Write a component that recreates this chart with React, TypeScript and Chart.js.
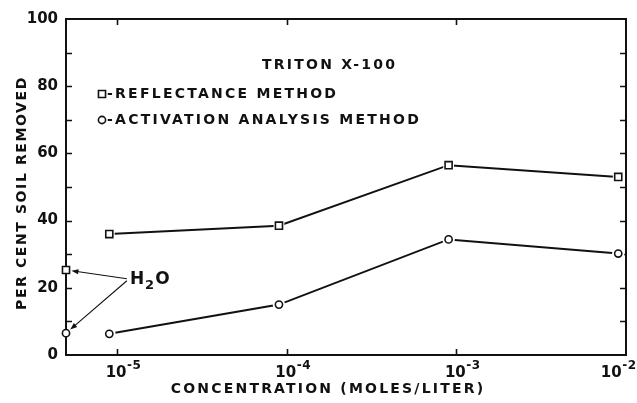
import React, { useEffect, useRef } from 'react';
import { Chart, registerables } from 'chart.js';

Chart.register(...registerables);

// ---- data ----
const CONCENTRATIONS = [9e-6, 9e-5, 9e-4, 9e-3];
const REFLECTANCE = [36.0, 38.5, 56.5, 53.0];
const ACTIVATION = [6.3, 15.0, 34.4, 30.2];
const H2O_CONCENTRATION = 5e-6; // water (no detergent) plotted on the y axis
const H2O_REFLECTANCE = 25.3;
const H2O_ACTIVATION = 6.5;

const X_TICK_VALUES = [1e-5, 1e-4, 1e-3, 1e-2];
const X_TICK_BASE = '10';
const X_TICK_EXPONENTS = ['-5', '-4', '-3', '-2'];
const Y_TICK_VALUES = [0, 20, 40, 60, 80, 100];
const Y_MINOR_TICKS = [10, 20, 30, 40, 50, 60, 70, 80, 90];
const X_MIN = 5e-6;
const X_MAX = 1e-2;
const Y_MIN = 0;
const Y_MAX = 100;

const H2O_LABEL_AT = { x: 1.19e-5, y: 22.4 };
const LEGEND_TITLE = 'TRITON X-100';
const LEGEND_LABELS = ['REFLECTANCE METHOD', 'ACTIVATION ANALYSIS METHOD'];
const X_TITLE = 'CONCENTRATION (MOLES/LITER)';
const Y_TITLE = 'PER CENT SOIL REMOVED';

// ---- styling ----
const INK = '#111111';
const FONT = "'DejaVu Sans', sans-serif";
const RECT_R = 5;
const CIRC_R = 3.6;
const HALO = 2.6;

function spacedText(
  ctx: CanvasRenderingContext2D,
  text: string,
  x: number,
  y: number,
  size: number,
  ls: number,
  align: CanvasTextAlign = 'left',
  weight = 'bold',
  baseline: CanvasTextBaseline = 'middle'
) {
  ctx.save();
  ctx.font = `${weight} ${size}px ${FONT}`;
  (ctx as any).letterSpacing = `${ls}px`;
  ctx.textAlign = align;
  ctx.textBaseline = baseline;
  ctx.fillStyle = INK;
  ctx.fillText(text, x, y);
  ctx.restore();
}

function textWidth(ctx: CanvasRenderingContext2D, text: string, size: number, ls: number) {
  ctx.save();
  ctx.font = `bold ${size}px ${FONT}`;
  (ctx as any).letterSpacing = `${ls}px`;
  const w = ctx.measureText(text).width;
  ctx.restore();
  return w;
}

function arrow(ctx: CanvasRenderingContext2D, x0: number, y0: number, x1: number, y1: number) {
  const ang = Math.atan2(y1 - y0, x1 - x0);
  const len = 7;
  const half = 2.6;
  ctx.save();
  ctx.strokeStyle = INK;
  ctx.fillStyle = INK;
  ctx.lineWidth = 1.1;
  ctx.beginPath();
  ctx.moveTo(x0, y0);
  ctx.lineTo(x1 - Math.cos(ang) * len * 0.8, y1 - Math.sin(ang) * len * 0.8);
  ctx.stroke();
  ctx.beginPath();
  ctx.moveTo(x1, y1);
  ctx.lineTo(x1 - Math.cos(ang) * len - Math.sin(ang) * half, y1 - Math.sin(ang) * len + Math.cos(ang) * half);
  ctx.lineTo(x1 - Math.cos(ang) * len + Math.sin(ang) * half, y1 - Math.sin(ang) * len - Math.cos(ang) * half);
  ctx.closePath();
  ctx.fill();
  ctx.restore();
}

const framePlugin = {
  id: 'frame',
  beforeDatasetsDraw(chart: any) {
    const { ctx, chartArea: a, scales } = chart;
    const x = scales.x;
    const y = scales.y;
    ctx.save();
    ctx.strokeStyle = INK;
    ctx.lineWidth = 2;
    ctx.strokeRect(a.left, a.top, a.right - a.left, a.bottom - a.top);
    ctx.lineWidth = 1.6;
    ctx.beginPath();
    for (const v of Y_MINOR_TICKS) {
      const py = Math.round(y.getPixelForValue(v)) + 0.5;
      ctx.moveTo(a.left, py);
      ctx.lineTo(a.left + 6, py);
      ctx.moveTo(a.right, py);
      ctx.lineTo(a.right - 6, py);
    }
    for (const v of X_TICK_VALUES) {
      if (v >= X_MAX) continue;
      const px = Math.round(x.getPixelForValue(v)) + 0.5;
      ctx.moveTo(px, a.bottom);
      ctx.lineTo(px, a.bottom - 6);
      ctx.moveTo(px, a.top);
      ctx.lineTo(px, a.top + 6);
    }
    ctx.stroke();
    ctx.restore();
  },
};

const notesPlugin = {
  id: 'notes',
  afterDraw(chart: any) {
    const { ctx, chartArea: a, scales, width } = chart;
    const x = scales.x;
    const y = scales.y;

    // x tick labels: 10 with a raised exponent
    X_TICK_VALUES.forEach((v, i) => {
      const px = x.getPixelForValue(v);
      const wb = textWidth(ctx, X_TICK_BASE, 15, 0);
      const we = textWidth(ctx, X_TICK_EXPONENTS[i], 12, 0.5);
      let left = px - wb / 2 - 1;
      if (left + wb + we > width - 1) left = width - 1 - wb - we;
      spacedText(ctx, X_TICK_BASE, left, a.bottom + 22, 15, 0, 'left', 'bold', 'alphabetic');
      spacedText(ctx, X_TICK_EXPONENTS[i], left + wb + 0.5, a.bottom + 14, 12, 0.5, 'left', 'bold', 'alphabetic');
    });

    // axis titles
    ctx.save();
    ctx.translate(22, (a.top + a.bottom) / 2 + 6);
    ctx.rotate(-Math.PI / 2);
    spacedText(ctx, Y_TITLE, 0, 0, 14, 1.6, 'center');
    ctx.restore();
    spacedText(ctx, X_TITLE, (a.left + a.right) / 2 - 18, 389, 14, 2.2, 'center');

    // legend
    spacedText(ctx, LEGEND_TITLE, a.left + 196, a.top + 46, 14, 2.25, 'left');
    const mx = a.left + 36;
    const rows = [a.top + 75, a.top + 101];
    ctx.save();
    ctx.strokeStyle = INK;
    ctx.fillStyle = '#fff';
    ctx.lineWidth = 1.6;
    const s = RECT_R * Math.SQRT1_2;
    ctx.beginPath();
    ctx.rect(mx - s, rows[0] - s, 2 * s, 2 * s);
    ctx.fill();
    ctx.stroke();
    ctx.beginPath();
    ctx.arc(mx, rows[1], CIRC_R, 0, Math.PI * 2);
    ctx.fill();
    ctx.stroke();
    ctx.restore();
    LEGEND_LABELS.forEach((t, i) => {
      spacedText(ctx, '-' + t, mx + 5, rows[i], 14, 2.25, 'left');
    });

    // H2O annotation
    const lx = x.getPixelForValue(H2O_LABEL_AT.x);
    const ly = y.getPixelForValue(H2O_LABEL_AT.y);
    spacedText(ctx, 'H', lx, ly, 17, 0, 'left', 'bold');
    const wh = textWidth(ctx, 'H', 17, 0);
    spacedText(ctx, '2', lx + wh + 1, ly + 6, 13, 0, 'left', 'bold');
    const w2 = textWidth(ctx, '2', 13, 0);
    spacedText(ctx, 'O', lx + wh + w2 + 2, ly, 17, 0, 'left', 'bold');
    const targets = [
      { px: x.getPixelForValue(H2O_CONCENTRATION), py: y.getPixelForValue(H2O_REFLECTANCE), r: RECT_R + 0.5 },
      { px: x.getPixelForValue(H2O_CONCENTRATION), py: y.getPixelForValue(H2O_ACTIVATION), r: CIRC_R + 2 },
    ];
    targets.forEach((t, i) => {
      const sx = lx - 3;
      const sy = ly + (i === 0 ? -1 : 1);
      const d = Math.hypot(t.px - sx, t.py - sy);
      const ex = t.px + ((sx - t.px) / d) * t.r;
      const ey = t.py + ((sy - t.py) / d) * t.r;
      arrow(ctx, sx, sy, ex, ey);
    });
  },
};

export default function App() {
  const ref = useRef<HTMLCanvasElement | null>(null);

  useEffect(() => {
    if (!ref.current) return;
    const pts = (vals: number[]) => CONCENTRATIONS.map((c, i) => ({ x: c, y: vals[i] }));
    const lineDs = (label: string, vals: number[]) => ({
      label,
      data: pts(vals),
      borderColor: INK,
      borderWidth: 2,
      pointRadius: 0,
      tension: 0,
      order: 3,
    });
    const haloDs = (label: string, data: any[], style: string, r: number) => ({
      label,
      data,
      showLine: false,
      pointStyle: style,
      pointRadius: r + HALO,
      pointBackgroundColor: '#ffffff',
      pointBorderColor: '#ffffff',
      pointBorderWidth: 0,
      clip: false,
      order: 2,
    });
    const markDs = (label: string, data: any[], style: string, r: number) => ({
      label,
      data,
      showLine: false,
      pointStyle: style,
      pointRadius: r,
      pointBackgroundColor: '#ffffff',
      pointBorderColor: INK,
      pointBorderWidth: 1.6,
      clip: false,
      order: 1,
    });
    const h2oRefl = [{ x: H2O_CONCENTRATION, y: H2O_REFLECTANCE }];
    const h2oAct = [{ x: H2O_CONCENTRATION, y: H2O_ACTIVATION }];
    const chart = new Chart(ref.current, {
      type: 'line',
      data: {
        datasets: [
          lineDs('Reflectance method', REFLECTANCE),
          lineDs('Activation analysis method', ACTIVATION),
          haloDs('halo reflectance', pts(REFLECTANCE), 'rect', RECT_R),
          haloDs('halo activation', pts(ACTIVATION), 'circle', CIRC_R),
          markDs('Reflectance method points', pts(REFLECTANCE), 'rect', RECT_R),
          markDs('Activation analysis method points', pts(ACTIVATION), 'circle', CIRC_R),
          markDs('H2O (reflectance)', h2oRefl, 'rect', RECT_R),
          markDs('H2O (activation)', h2oAct, 'circle', CIRC_R),
        ] as any,
      },
      options: {
        animation: false,
        responsive: false,
        maintainAspectRatio: false,
        layout: { padding: { left: 0, right: 11, top: 19, bottom: 0 } },
        plugins: { legend: { display: false }, tooltip: { enabled: false }, title: { display: false } },
        scales: {
          x: {
            type: 'logarithmic',
            position: 'bottom',
            min: X_MIN,
            max: X_MAX,
            afterBuildTicks: (s: any) => {
              s.ticks = X_TICK_VALUES.map((v) => ({ value: v }));
            },
            afterFit: (s: any) => {
              s.height = 48;
              s.paddingLeft = 0;
              s.paddingRight = 0;
            },
            grid: { display: false, drawTicks: false, tickLength: 0 },
            border: { display: false },
            ticks: { display: false },
          },
          y: {
            type: 'linear',
            position: 'left',
            min: Y_MIN,
            max: Y_MAX,
            afterBuildTicks: (s: any) => {
              s.ticks = Y_TICK_VALUES.map((v) => ({ value: v }));
            },
            afterFit: (s: any) => {
              s.width = 66;
              s.paddingTop = 0;
              s.paddingBottom = 0;
            },
            grid: { display: false, drawTicks: false, tickLength: 0 },
            border: { display: false },
            ticks: { padding: 8, color: INK, font: { family: FONT, size: 15, weight: 'bold' } },
          },
        },
      } as any,
      plugins: [framePlugin, notesPlugin],
    });
    return () => chart.destroy();
  }, []);

  return (
    <div style={{ position: 'fixed', left: 0, top: 0, width: 637, height: 403, background: '#fff' }}>
      <canvas ref={ref} width={637} height={403} style={{ display: 'block' }} />
    </div>
  );
}
